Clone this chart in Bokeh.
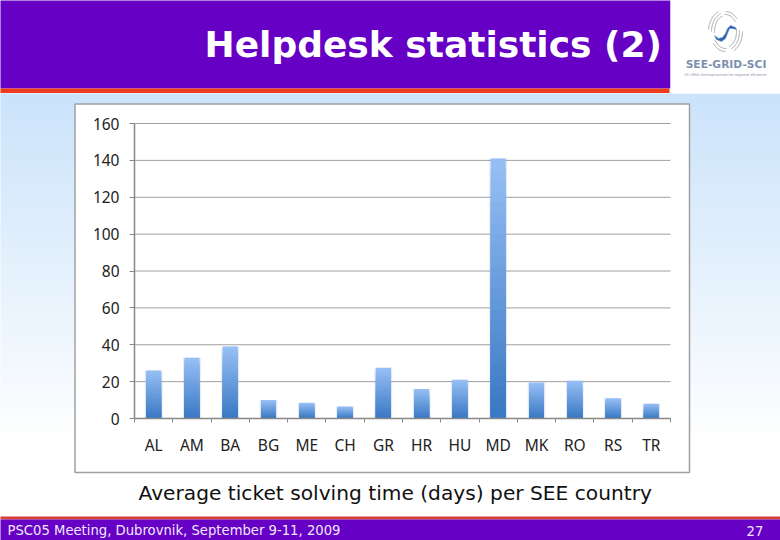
from bokeh.plotting import figure
from bokeh.models import BoxAnnotation, Label, FixedTicker, Range1d, PolyAnnotation, LinearAxis
from bokeh.embed import file_html
from bokeh.resources import INLINE
import numpy as np

countries = ["AL","AM","BA","BG","ME","CH","GR","HR","HU","MD","MK","RO","RS","TR"]
days = [26, 33, 39, 10, 8.5, 6.5, 27.5, 16, 21, 141, 19.5, 20.5, 11, 8]
y_ticks = [0,20,40,60,80,100,120,140,160]
title_text = "Helpdesk statistics (2)"
caption_text = "Average ticket solving time (days) per SEE country"
footer_text = "PSC05 Meeting, Dubrovnik, September 9-11, 2009"
page_number = "27"

W, H = 780, 540
n_cat = len(countries)
# pixel box of the plot area on the slide
PL, PR, PT, PB = 134, 670, 123, 418
sx = (PR-PL)/n_cat
sy = (PB-PT)/160
centers = [i + 0.5 for i in range(n_cat)]
bounds = list(range(n_cat + 1))

p = figure(width=W, height=H, output_backend="svg", toolbar_location=None,
           x_range=Range1d(-PL/sx, (W-PL)/sx), y_range=Range1d(-(H-PB)/sy, PB/sy),
           min_border=0, x_axis_location=None, y_axis_location=None)
p.outline_line_color = None
p.background_fill_color = "white"
p.border_fill_color = "white"
p.xgrid.visible = False
p.ygrid.visible = False

def box(x0, y0, x1, y1, color, line=None, lw=1):
    p.add_layout(BoxAnnotation(left=x0, right=x1, top=H-y0, bottom=H-y1,
                      left_units="screen", right_units="screen", top_units="screen", bottom_units="screen",
                      fill_color=color, fill_alpha=1, line_color=line, line_alpha=1 if line else 0,
                      line_width=lw, level="image"))

def text(x, y, s, size, color="white", style="normal", font="DejaVu Sans", align="left"):
    p.add_layout(Label(x=x, y=H-y, x_units="screen", y_units="screen", text=s,
                       text_font=font, text_font_size=f"{size}px", text_font_style=style,
                       text_color=color, text_align=align, text_baseline="middle"))

def poly(xs, ys, fill, line, alpha=1.0):
    p.add_layout(PolyAnnotation(xs=list(xs), ys=[H-y for y in ys], xs_units="screen", ys_units="screen",
                                fill_color=fill, fill_alpha=alpha, line_color=line, line_width=0.6, line_alpha=alpha))

def arc(rx, ry, a0, a1, color):
    a = np.radians(np.linspace(a0, a1, 14))
    xs = 725 + rx*np.cos(a)
    ys = 31 - ry*np.sin(a)
    poly(np.r_[xs, xs[::-1]], np.r_[ys, ys[::-1]], color, color, 0.9)

# page background gradient
top = np.array([204, 228, 251])
for y in range(93, 516, 6):
    t = min(1, max(0, (y-100)/340))
    c = top + (np.array([255,255,255]) - top)*t
    box(-2, y, 782, y+7, "#%02x%02x%02x" % tuple(int(v) for v in c))
# header & footer
box(-2, -2, 670, 88, "#6600c4")
box(-2, 88, 669, 92.5, "#ee3c1e")
box(670, -2, 782, 93, "white")
box(-2, 516, 782, 519, "#d8403a")
box(-2, 519, 782, 542, "#6600c4")
# chart panel
box(74.5, 103.5, 689, 472, "white", line="#a0a0a0", lw=1.5)

# gridlines
p.segment(x0=[0]*len(y_ticks), x1=[n_cat]*len(y_ticks), y0=y_ticks, y1=y_ticks,
          line_color="#a0a0a0", line_width=1)

# axes placed inside the frame
yax = LinearAxis(fixed_location=0, bounds=(0, 160), ticker=FixedTicker(ticks=y_ticks))
yax.major_label_text_font = "Noto Sans"
yax.major_label_text_font_size = "15.5px"
yax.major_label_text_color = "#222222"
yax.major_label_standoff = 10
yax.major_tick_out = 5
yax.major_tick_in = 0
yax.minor_tick_line_color = None
yax.major_tick_line_color = "#888888"
yax.axis_line_color = "#888888"
yax.axis_line_width = 1.5
p.add_layout(yax, "left")

xax = LinearAxis(fixed_location=0, bounds=(0, n_cat), ticker=FixedTicker(ticks=centers, minor_ticks=bounds))
xax.major_label_overrides = dict(zip(centers, countries))
xax.major_label_text_font = "Noto Sans"
xax.major_label_text_font_size = "15.5px"
xax.major_label_text_color = "#222222"
xax.major_label_standoff = 11
xax.major_tick_out = 0
xax.major_tick_in = 0
xax.major_tick_line_color = None
xax.minor_tick_out = 4
xax.minor_tick_in = 0
xax.minor_tick_line_color = "#888888"
xax.axis_line_color = "#888888"
xax.axis_line_width = 1.5
p.add_layout(xax, "below")

# bars: soft halo then gradient built by overpainting shrinking bars
p.vbar(x=centers, top=days, width=0.46, bottom=0, fill_color="#7aa5dc", fill_alpha=0.25, line_color=None)
n = 24
c0, c1 = np.array([150,190,245]), np.array([58,122,196])
for i in range(n):
    f = 1 - i/n
    c = c0 + (c1-c0)*(i/(n-1))
    p.vbar(x=centers, top=[d*f for d in days], bottom=0, width=0.39,
           fill_color="#%02x%02x%02x" % tuple(int(v) for v in c), line_color=None)

# texts
text(204, 44, title_text, 36, style="bold")
text(138, 492, caption_text, 20.2, color="#111111")
text(7, 530, footer_text, 13.2, color="#f0e8ff")
text(746, 530, page_number, 13.2, color="#f0e8ff")
# logo text
text(725.5, 64, "SEE-GRID-SCI", 10.7, color="#7d8fb0", style="bold", align="center")
text(725, 74.5, "EE-GRID eInfrastructure for regional eScience", 3.6, color="#8892a8", align="center")
# logo mark
for rx, ry, a0, a1 in [(17, 22, 115, 175), (14, 19, 110, 180), (11, 16, 105, 185),
                       (17, 22, 300, 360), (14, 19, 295, 365), (11, 16, 290, 370),
                       (15, 20, 40, 90), (12, 17, 35, 95),
                       (15, 20, 215, 270), (12, 17, 210, 275)]:
    arc(rx, ry, a0, a1, "#a8a8a8")
poly([714,718,722,725,727,730,735,736,732,729,727,725,721,716],
     [35,38,37,33,28,25,27,29,28,28,33,38,41,39], "#2f5fb0", "#5f8fd0")

open("out.html", "w").write(file_html(p, INLINE))
